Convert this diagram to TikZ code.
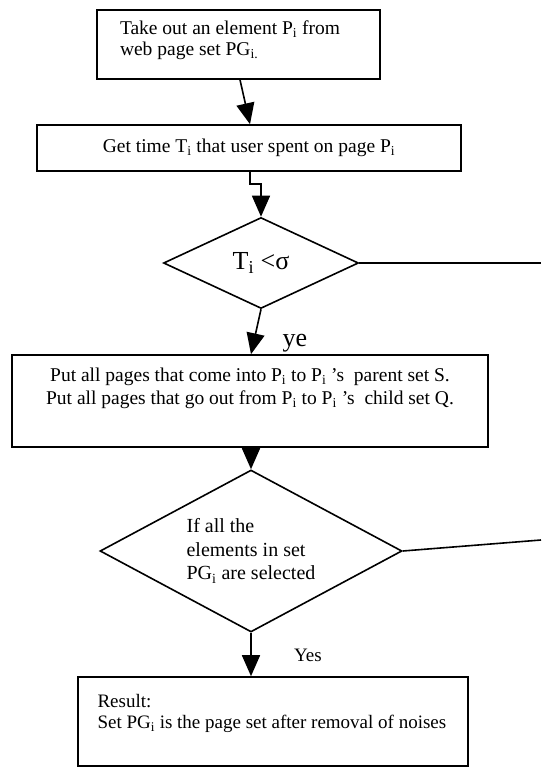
\documentclass[tikz,border=0pt]{standalone}
\usepackage{fontspec}
\setmainfont{Liberation Serif}
\usetikzlibrary{shapes.geometric,arrows.meta}
\begin{document}
\begin{tikzpicture}[x=1pt, y=-1pt,
  box/.style={draw, rectangle, line width=1.6pt, inner sep=0pt},
  decision/.style={draw, diamond, line width=1.6pt, inner sep=0pt},
  flow/.style={-{Triangle[length=21pt,width=18pt]}, line width=1.6pt},
  font=\fontsize{19}{21}\selectfont]
  \useasboundingbox (0,0) rectangle (541,768);

  % Take out
  \node[box, minimum width=283pt, minimum height=69pt, text width=237pt, align=flush left, text depth=34pt, font=\fontsize{19.5}{21}\selectfont] (take) at (238.5,44.5)
    {Take out an element P\textsubscript{i} from\\web page set PG\textsubscript{i.}};

  % Time
  \node[box, minimum width=424pt, minimum height=46pt, font=\fontsize{19.5}{21}\selectfont] (time) at (249,148)
    {Get time T\textsubscript{i} that user spent on page P\textsubscript{i}};

  % Test time
  \node[decision, aspect=2.14, minimum width=195pt, minimum height=91pt, font=\fontsize{26}{30}\selectfont] (test) at (261,263)
    {T\textsubscript{i} <σ};

  % Parent and child sets
  \node[box, minimum width=476pt, minimum height=92pt, align=center, text depth=30pt, font=\fontsize{19.5}{23.5}\selectfont] (sets) at (250,401)
    {Put all pages that come into P\textsubscript{i} to P\textsubscript{i} ’s\ \ parent set S.\\
     Put all pages that go out from P\textsubscript{i} to P\textsubscript{i} ’s\ \ child set Q.};

  % All selected
  \node[decision, aspect=1.86, minimum width=302pt, minimum height=162pt, align=flush left, font=\fontsize{20}{23.5}\selectfont] (done) at (251,551)
    {If all the\\elements in set\\PG\textsubscript{i} are selected};

  % Result
  \node[box, minimum width=390pt, minimum height=89pt, text width=351pt, align=flush left, text depth=41pt, font=\fontsize{19}{21}\selectfont] (result) at (273,721.5)
    {Result:\\\mbox{Set PG\textsubscript{i} is the page set after removal of noises}};

  % Right ends
  \coordinate (testend) at (541,263);
  \coordinate (doneend) at (541,540);

  % Labels
  \node[fill=white, minimum width=84pt, inner ysep=2pt, font=\fontsize{26}{30}\selectfont] (ye) at (295,343) {ye};
  \node (yes) at (308,655) {Yes};

  % Connections
  \draw[flow] ([xshift=1.5pt]take.south) -- ([xshift=1pt]time.north);
  \draw[flow] ([xshift=1pt]time.south) -- ++(0,12) -| (test.north);
  \draw[flow] (test.south) -- ([xshift=1pt]sets.north);
  \draw[flow] ([xshift=1pt]sets.south) -- (done.north);
  \draw[flow] (done.south) -- (done.south |- result.north);
  \draw[line width=1.6pt] (test.east) -- (testend);
  \draw[line width=1.6pt] (done.east) -- (doneend);
\end{tikzpicture}
\end{document}
